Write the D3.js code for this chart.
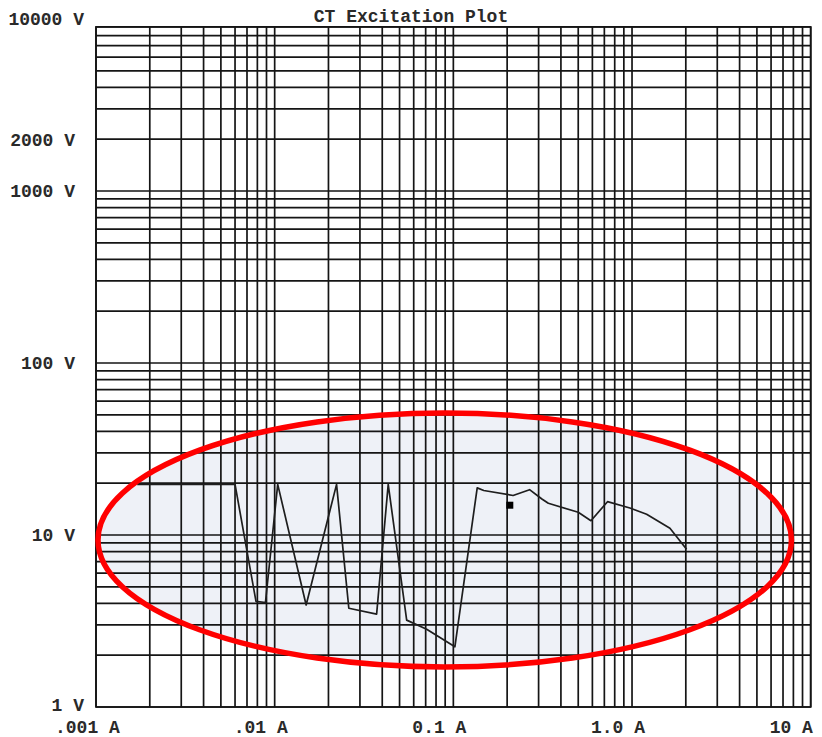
<!DOCTYPE html>
<html>
<head>
<meta charset="utf-8">
<script src="https://cdn.jsdelivr.net/npm/d3@7"></script>
<style>
  body { margin: 0; background: #fff; }
  text { font-family: "Liberation Mono", "Courier New", monospace; font-weight: bold; fill: #2a2a2a; }
</style>
</head>
<body>
<svg id="chart" width="822" height="737"></svg>
<script>
// excitation curve
var currentA = [0.0017, 0.006, 0.00786, 0.00888, 0.0104, 0.015, 0.0222, 0.026, 0.0372, 0.0432, 0.0548, 0.0709, 0.102,
                0.136, 0.148, 0.216, 0.267, 0.313, 0.34, 0.5, 0.589, 0.729, 0.973, 1.207, 1.63, 2.02];
var voltageV = [19.7, 19.7, 4.11, 4.05, 19.7, 3.92, 19.7, 3.75, 3.47, 19.7, 3.2, 2.83, 2.24,
                18.8, 18.15, 16.97, 18.34, 16.2, 15.29, 13.55, 12.11, 15.62, 14.35, 13.19, 10.94, 8.26];

// knee point marker
var kneeA = [0.207];
var kneeV = [14.9];

// highlighted region (red ellipse), data bounds
var highlightA = [0.001026, 7.8];
var highlightV = [1.71, 51.2];

var xTickValues = [0.001, 0.01, 0.1, 1, 10];
var xTickLabels = [".001 A", ".01 A", "0.1 A", "1.0 A", "10 A"];
var yTickValues = [1, 10, 100, 1000, 2000, 10000];
var yTickLabels = ["1 V", "10 V", "100 V", "1000 V", "2000 V", "10000 V"];
var yTopValue = 9000;

var chartTitle = "CT Excitation Plot";

function PlotDrawer(svg) {
  this.svg = svg;
  this.width = +svg.attr("width");
  this.x = d3.scaleLog().domain([0.001, 10]).range([96, 810.7]);
  this.y = d3.scaleLog().domain([1, 10000]).range([707, 19]);
}

PlotDrawer.prototype.drawLine = function(element, x1, y1, x2, y2) {
  return element.append("line").attr("x1", x1).attr("y1", y1).attr("x2", x2).attr("y2", y2);
}

PlotDrawer.prototype.highlightBox = function() {
  var x = this.x, y = this.y;
  var left = x(highlightA[0]), right = x(highlightA[1]);
  var top = y(highlightV[1]), bottom = y(highlightV[0]);
  return { cx: (left + right) / 2, cy: (top + bottom) / 2, rx: (right - left) / 2, ry: (bottom - top) / 2 };
}

PlotDrawer.prototype.drawHighlightFill = function() {
  var b = this.highlightBox();
  this.svg.append("ellipse").attr("cx", b.cx).attr("cy", b.cy).attr("rx", b.rx).attr("ry", b.ry)
          .attr("fill", "#eef1f7").attr("stroke", "none");
}

PlotDrawer.prototype.drawHighlightRing = function() {
  var b = this.highlightBox();
  this.svg.append("ellipse").attr("cx", b.cx).attr("cy", b.cy).attr("rx", b.rx).attr("ry", b.ry)
          .attr("fill", "none").attr("stroke", "#ff0000").attr("stroke-width", 5.5);
}

PlotDrawer.prototype.drawGrid = function() {
  var x = this.x, y = this.y;
  var top = y(yTopValue), bottom = y.range()[0];
  var left = x.range()[0], right = x.range()[1];
  var grid = this.svg.append("g").attr("stroke", "#151515").attr("stroke-width", 1.7);
  var self = this;
  x.ticks().forEach(function(v) {
    self.drawLine(grid, x(v), top, x(v), bottom);
  });
  y.ticks().filter(function(v) { return v <= yTopValue; }).forEach(function(v) {
    self.drawLine(grid, left, y(v), right, y(v));
  });
  grid.append("rect").attr("x", left).attr("y", top).attr("width", right - left).attr("height", bottom - top)
      .attr("fill", "none");
}

PlotDrawer.prototype.drawCurve = function() {
  var x = this.x, y = this.y;
  var pts = currentA.map(function(a, i) { return [a, voltageV[i]]; });
  var line = d3.line().x(function(d) { return x(d[0]); }).y(function(d) { return y(d[1]); });
  this.svg.append("path").datum(pts).attr("d", line)
          .attr("fill", "none").attr("stroke", "#1e1e1e").attr("stroke-width", 1.7)
          .attr("stroke-linejoin", "round");
  this.svg.selectAll("rect.knee").data(kneeA).enter().append("rect").attr("class", "knee")
          .attr("x", function(d) { return x(d) - 3.5; })
          .attr("y", function(d, i) { return y(kneeV[i]) - 3.5; })
          .attr("width", 7).attr("height", 7).attr("fill", "#000");
}

PlotDrawer.prototype.drawLabels = function() {
  var x = this.x, y = this.y, width = this.width;
  var svg = this.svg;
  svg.append("text").attr("x", width / 2).attr("y", 22).attr("text-anchor", "middle")
     .attr("font-size", 18).text(chartTitle);

  // y labels, right-aligned left of the frame; end ones sit a bit further right
  yTickValues.forEach(function(v, i) {
    var last = i === yTickValues.length - 1;
    var nudge = (i === 0 || last) ? 9 : 0;
    svg.append("text").attr("x", 75 + nudge).attr("y", y(v)).attr("dy", i === 0 ? "0.2em" : "0.35em")
       .attr("text-anchor", "end").attr("font-size", 18).text(yTickLabels[i]);
  });

  // x labels, start just left of each decade line, kept inside the picture
  xTickValues.forEach(function(v, i) {
    var t = svg.append("text").attr("y", 733).attr("font-size", 18).text(xTickLabels[i]);
    var w = t.node().getComputedTextLength();
    t.attr("x", Math.min(x(v) - 41, width - 4 - w));
  });
}

var drawer = new PlotDrawer(d3.select("#chart"));
drawer.drawHighlightFill();
drawer.drawGrid();
drawer.drawCurve();
drawer.drawHighlightRing();
drawer.drawLabels();
</script>
</body>
</html>
